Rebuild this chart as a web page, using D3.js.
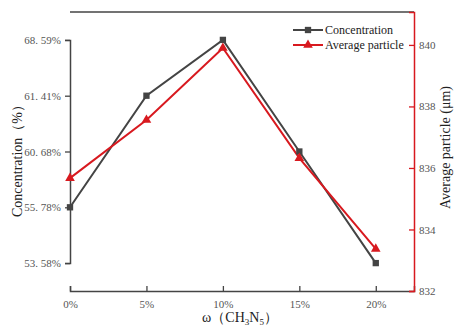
<!DOCTYPE html>
<html>
<head>
<meta charset="utf-8">
<script src="https://cdn.jsdelivr.net/npm/d3@7"></script>
<style>
  html, body { margin: 0; padding: 0; background: #fff; }
  svg { display: block; font-family: "Liberation Serif", "Times New Roman", serif; }
</style>
</head>
<body>
<svg id="chart" width="455" height="330"></svg>
<script>
// ---- data ----
const categories = [0, 5, 10, 15, 20];              // ω (CH3N5), %
const concentration = [55.78, 61.41, 68.59, 60.68, 53.58]; // %
const avgParticle = [835.67, 837.56, 839.9, 836.32, 833.37]; // μm
const leftTicks = [53.58, 55.78, 60.68, 61.41, 68.59];
const rightTicks = [832, 834, 836, 838, 840];
const xTicks = [0, 5, 10, 15, 20];

// ---- layout ----
const svg = d3.select("#chart");
const L = 70, R = 414, T = 12, B = 291;
const grey = "#444444", red = "#d8191f", labelCol = "#555";

const x = d3.scaleLinear().domain([0, 22.5]).range([L, R]);
// left axis: labelled values placed at evenly spaced positions
const step = (B - T) / 5;
const yL = d3.scaleLinear()
  .domain(leftTicks)
  .range(leftTicks.map((d, i) => B - step * (i + 0.5)));
const yR = d3.scaleLinear().domain([832, 841.07]).range([B, T]);

// top frame
svg.append("line").attr("x1", L).attr("x2", R).attr("y1", T).attr("y2", T)
  .attr("stroke", grey).attr("stroke-width", 1.5);

// bottom axis (ticks inward)
const gx = svg.append("g").attr("transform", `translate(0,${B})`)
  .call(d3.axisBottom(x).tickValues(xTicks).tickSize(-5).tickPadding(9).tickFormat(d => d + "%"));
gx.select(".domain").attr("stroke", grey).attr("stroke-width", 1.5);
gx.selectAll(".tick line").attr("stroke", grey).attr("stroke-width", 1.3);
gx.selectAll(".tick text").attr("fill", labelCol).attr("font-size", 11)
  .attr("font-family", "Liberation Serif, serif");

// left axis (ticks outward)
const gl = svg.append("g").attr("transform", `translate(${L},0)`)
  .call(d3.axisLeft(yL).tickValues(leftTicks).tickSize(5).tickPadding(4)
    .tickFormat(d => d3.format(".2f")(d).replace(".", ". ") + "%"));
gl.select(".domain").attr("stroke", grey).attr("stroke-width", 1.5);
gl.selectAll(".tick line").attr("stroke", grey).attr("stroke-width", 1.3);
gl.selectAll(".tick text").attr("fill", labelCol).attr("font-size", 11)
  .attr("font-family", "Liberation Serif, serif");

// right axis (red, ticks inward)
const gr = svg.append("g").attr("transform", `translate(${R},0)`)
  .call(d3.axisRight(yR).tickValues(rightTicks).tickSize(-5).tickPadding(5));
gr.select(".domain").attr("stroke", red).attr("stroke-width", 1.5);
gr.selectAll(".tick line").attr("stroke", red).attr("stroke-width", 1.3);
gr.selectAll(".tick text").attr("fill", labelCol).attr("font-size", 11)
  .attr("font-family", "Liberation Serif, serif");

// lines
const lineC = d3.line().x((d, i) => x(categories[i])).y(d => yL(d));
const lineP = d3.line().x((d, i) => x(categories[i])).y(d => yR(d));

svg.append("path").datum(concentration).attr("d", lineC)
  .attr("fill", "none").attr("stroke", grey).attr("stroke-width", 2);
svg.append("path").datum(avgParticle).attr("d", lineP)
  .attr("fill", "none").attr("stroke", red).attr("stroke-width", 2);

const sq = d3.symbol().type(d3.symbolSquare).size(40);
const tri = d3.symbol().type(d3.symbolTriangle).size(40);

svg.selectAll(".mc").data(concentration).enter().append("path")
  .attr("d", sq).attr("fill", grey)
  .attr("transform", (d, i) => `translate(${x(categories[i])},${yL(d)})`);
svg.selectAll(".mp").data(avgParticle).enter().append("path")
  .attr("d", tri).attr("fill", red)
  .attr("transform", (d, i) => `translate(${x(categories[i])},${yR(d)})`);

// axis titles
svg.append("text").attr("transform", `translate(22,${(T + B) / 2 + 6}) rotate(-90)`)
  .attr("text-anchor", "middle").attr("font-size", 14).attr("fill", "#222")
  .text("Concentration（%）");
svg.append("text").attr("transform", `translate(450,${(T + B) / 2 - 4}) rotate(-90)`)
  .attr("text-anchor", "middle").attr("font-size", 14).attr("fill", "#222")
  .text("Average particle (μm)");
const xt = svg.append("text").attr("x", 240).attr("y", 322)
  .attr("text-anchor", "middle").attr("font-size", 14).attr("fill", "#222");
xt.append("tspan").text("ω（CH");
xt.append("tspan").attr("font-size", 9).attr("dy", 3).text("3");
xt.append("tspan").attr("dy", -3).text("N");
xt.append("tspan").attr("font-size", 9).attr("dy", 3).text("5");
xt.append("tspan").attr("dy", -3).text("）");

// legend
const legend = [
  { name: "Concentration", color: grey, sym: sq, y: 30 },
  { name: "Average particle", color: red, sym: tri, y: 45 }
];
const lg = svg.append("g");
legend.forEach(d => {
  lg.append("line").attr("x1", 293).attr("x2", 323).attr("y1", d.y).attr("y2", d.y)
    .attr("stroke", d.color).attr("stroke-width", 2);
  lg.append("path").attr("d", d.sym).attr("fill", d.color)
    .attr("transform", `translate(308,${d.y})`);
  lg.append("text").attr("x", 325).attr("y", d.y + 4).attr("font-size", 12)
    .attr("fill", "#222").text(d.name);
});
</script>
</body>
</html>
